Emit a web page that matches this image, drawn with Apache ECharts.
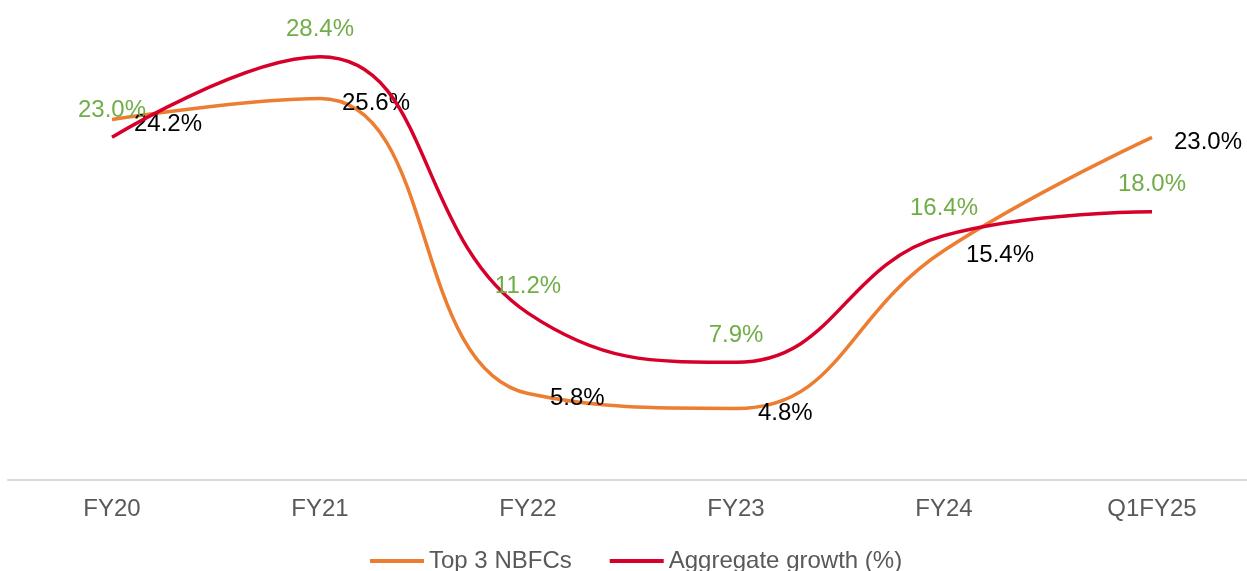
<!DOCTYPE html>
<html>
<head>
<meta charset="utf-8">
<style>
  html, body { margin: 0; padding: 0; background: #ffffff; }
  #chart { width: 1247px; height: 571px; }
</style>
<script src="https://cdn.jsdelivr.net/npm/echarts@6/dist/echarts.min.js"></script>
</head>
<body>
<div id="chart"></div>
<script>
// Loan book growth, FY20 to Q1FY25
const categories = ['FY20', 'FY21', 'FY22', 'FY23', 'FY24', 'Q1FY25'];
const top3Nbfcs = [24.2, 25.6, 5.8, 4.8, 15.4, 23.0];
const aggregateGrowth = [23.0, 28.4, 11.2, 7.9, 16.4, 18.0];
const seriesNames = ['Top 3 NBFCs', 'Aggregate growth (%)'];

const FONT = '"Liberation Sans", Arial, sans-serif';
const pct = p => p.value.toFixed(1) + '%';

const chart = echarts.init(document.getElementById('chart'), null, { renderer: 'canvas' });

chart.setOption({
  animation: false,
  backgroundColor: '#ffffff',
  textStyle: { fontFamily: FONT },
  grid: { left: 8, right: -9, top: 33, bottom: 91, containLabel: false, outerBoundsMode: 'none' },
  legend: {
    data: seriesNames,
    left: 365,
    top: 544,
    icon: 'rect',
    itemWidth: 54,
    itemHeight: 4,
    itemGap: 38,
    textStyle: { fontFamily: FONT, fontSize: 24, color: '#595959' }
  },
  xAxis: {
    type: 'category',
    data: categories,
    boundaryGap: true,
    axisLine: { show: true, lineStyle: { color: '#D9D9D9', width: 2 } },
    axisTick: { show: false },
    axisLabel: { fontFamily: FONT, fontSize: 24, color: '#595959', margin: 17 },
    splitLine: { show: false }
  },
  yAxis: {
    type: 'value',
    min: 0,
    max: 30,
    show: false,
    splitLine: { show: false }
  },
  series: [
    {
      name: seriesNames[0],
      type: 'line',
      data: top3Nbfcs,
      smooth: 0.45,
      symbol: 'circle',
      symbolSize: 0,
      lineStyle: { color: '#ED7D31', width: 3.5 },
      itemStyle: { color: '#ED7D31' },
      label: {
        show: true,
        position: 'right',
        distance: 22,
        offset: [0, 5],
        formatter: pct,
        fontFamily: FONT,
        fontSize: 24,
        color: '#000000'
      },
      z: 2
    },
    {
      name: seriesNames[1],
      type: 'line',
      data: aggregateGrowth,
      smooth: 0.45,
      symbol: 'circle',
      symbolSize: 0,
      lineStyle: { color: '#D6002A', width: 3.5 },
      itemStyle: { color: '#D6002A' },
      label: {
        show: true,
        position: 'top',
        distance: 15,
        formatter: pct,
        fontFamily: FONT,
        fontSize: 24,
        color: '#70AD47'
      },
      z: 3
    }
  ]
});
</script>
</body>
</html>
